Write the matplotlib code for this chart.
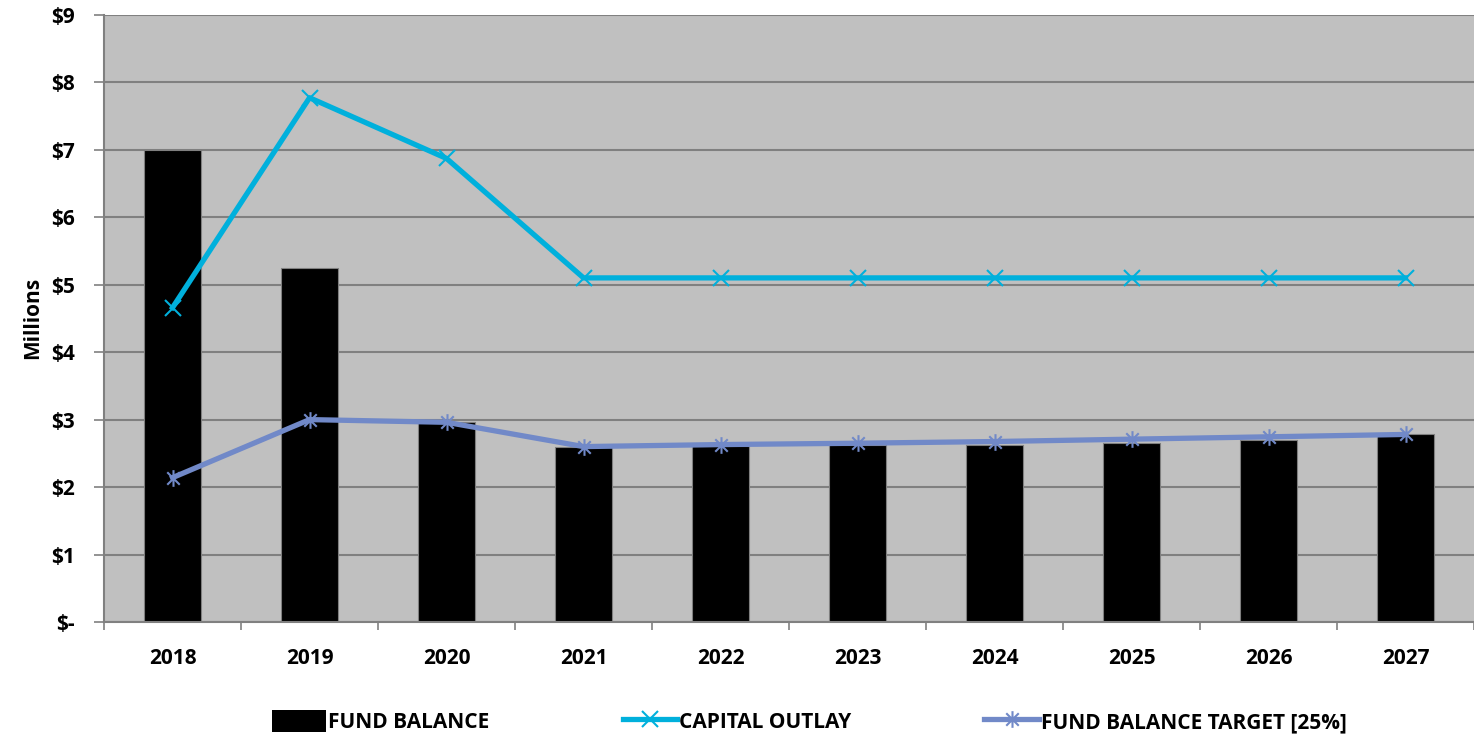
import numpy as np
import matplotlib
matplotlib.use("Agg")
import matplotlib.pyplot as plt
from matplotlib.path import Path
from matplotlib.patches import Patch

# data (millions of dollars)
years = ["2018", "2019", "2020", "2021", "2022", "2023", "2024", "2025", "2026", "2027"]
fund_balance = [7.00, 5.25, 2.96, 2.60, 2.61, 2.62, 2.62, 2.66, 2.70, 2.78]
capital_outlay = [4.66, 7.77, 6.87, 5.10, 5.10, 5.10, 5.10, 5.10, 5.10, 5.10]
balance_target = [2.14, 3.00, 2.96, 2.60, 2.63, 2.65, 2.675, 2.71, 2.745, 2.78]
yticks = [0, 1, 2, 3, 4, 5, 6, 7, 8, 9]
ytick_labels = ["$-", "$1", "$2", "$3", "$4", "$5", "$6", "$7", "$8", "$9"]

plt.rcParams['font.family'] = ['Open Sans', 'DejaVu Sans']
plt.rcParams['font.weight'] = 'bold'

# asterisk marker: vertical bar plus an X
star = Path([(0, -1), (0, 1), (-0.75, -0.75), (0.75, 0.75), (-0.75, 0.75), (0.75, -0.75)],
            [Path.MOVETO, Path.LINETO, Path.MOVETO, Path.LINETO, Path.MOVETO, Path.LINETO])

fig = plt.figure(figsize=(14.74, 7.37), dpi=100)
ax = fig.add_axes([0.0706, 0.156, 0.9294, 0.824])
ax.set_facecolor('#C0C0C0')

x = np.arange(len(years))
bars = ax.bar(x, fund_balance, width=0.41, color='black', edgecolor='#7f7f7f', linewidth=0.8,
              zorder=2)
l1, = ax.plot(x, capital_outlay, color='#00B0DC', lw=3.8, marker='x', ms=12, mew=1.5, zorder=3)
l2, = ax.plot(x, balance_target, color='#7189C8', lw=3.8, marker=star, ms=12, mew=1.5, zorder=3)

ax.set_xlim(-0.5, len(years) - 0.5)
ax.set_ylim(0, 9)
ax.set_yticks(yticks)
ax.set_yticklabels(ytick_labels, fontsize=15, fontweight='bold')
ax.set_xticks(x)
ax.set_xticklabels(years, fontsize=15, fontweight='bold')
ax.tick_params(axis='x', length=0, pad=19)
ax.set_xticks(np.arange(-0.5, len(years)), minor=True)
ax.tick_params(axis='x', which='minor', length=6, color='#808080', width=1.2)
ax.tick_params(axis='y', length=7, color='#808080', width=1.2, pad=14)
ax.grid(axis='y', color='#808080', lw=1.5, zorder=1)
for s in ['top', 'right']:
    ax.spines[s].set_visible(False)
for s in ['left', 'bottom']:
    ax.spines[s].set_color('#808080')
    ax.spines[s].set_linewidth(1.5)

ax.set_ylabel('Millions', fontsize=15, fontweight='bold', labelpad=6)

handles = [Patch(facecolor='black'), l1, l2]
labels = ['FUND BALANCE', 'CAPITAL OUTLAY', 'FUND BALANCE TARGET [25%]']
fig.legend(handles, labels, loc='lower center', bbox_to_anchor=(0.549, -0.02), ncol=3,
           frameon=False, handlelength=2.6, handleheight=1.3, handletextpad=0.1,
           columnspacing=6.4, prop={'weight': 'bold', 'size': 15})

fig.savefig('out.png', dpi=100)
